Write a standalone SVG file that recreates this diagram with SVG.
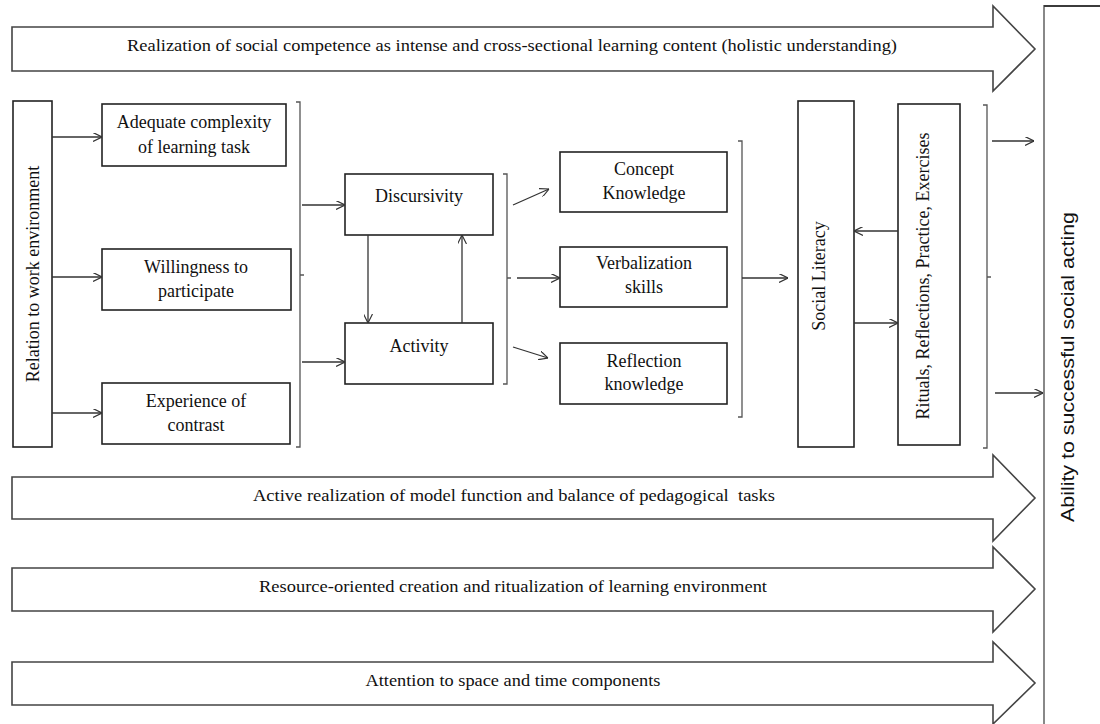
<svg xmlns="http://www.w3.org/2000/svg" width="1100" height="724" viewBox="0 0 1100 724">
<defs>
<style>
.box{fill:#fff;stroke:#222;stroke-width:1.6}
.band{fill:#fff;stroke:#444;stroke-width:1.6}
.t{font-family:"Liberation Serif","Times New Roman",serif;font-size:18px;fill:#111;text-anchor:middle}
.bt{font-family:"Liberation Serif","Times New Roman",serif;font-size:17.5px;fill:#111;text-anchor:middle;white-space:pre}
.s{font-family:"Liberation Sans",Arial,sans-serif;font-size:18px;fill:#111;text-anchor:middle}
.c{fill:none;stroke:#333;stroke-width:1.3}
.br{fill:none;stroke:#555;stroke-width:1.3}
</style>
<marker id="ah" viewBox="0 0 10 10" refX="10" refY="5" markerWidth="9" markerHeight="9" markerUnits="userSpaceOnUse" orient="auto">
<path d="M0,0 L10,5 L0,10" fill="none" stroke="#333" stroke-width="1.3"/>
</marker>
</defs>
<rect width="1100" height="724" fill="#fff"/>

<g id="band-top">
<path class="band" d="M12,27 H993 V6 L1035,49 L993,91 V71 H12 Z"/>
<text class="bt" x="512" y="51" textLength="770" lengthAdjust="spacingAndGlyphs">Realization of social competence as intense and cross-sectional learning content (holistic understanding)</text>
</g>
<g id="band-active">
<path class="band" d="M12,477 H993 V455 L1035,498 L993,541 V519 H12 Z"/>
<text class="bt" x="514" y="501" textLength="522" lengthAdjust="spacingAndGlyphs">Active realization of model function and balance of pedagogical  tasks</text>
</g>
<g id="band-resource">
<path class="band" d="M12,568 H993 V547 L1035,589 L993,632 V611 H12 Z"/>
<text class="bt" x="513" y="592" textLength="508" lengthAdjust="spacingAndGlyphs">Resource-oriented creation and ritualization of learning environment</text>
</g>
<g id="band-attention">
<path class="band" d="M12,662 H993 V642 L1035,683 L993,724 V705 H12 Z"/>
<text class="bt" x="513" y="686" textLength="295" lengthAdjust="spacingAndGlyphs">Attention to space and time components</text>
</g>

<g id="ability">
<rect x="1044" y="6" width="80" height="740" fill="#fff" stroke="#888" stroke-width="2"/>
<line x1="1044" y1="6" x2="1100" y2="6" stroke="#222" stroke-width="1.6"/>
<text class="s" transform="translate(1074,367) rotate(-90)" textLength="310" lengthAdjust="spacingAndGlyphs">Ability to successful social acting</text>
</g>

<g id="relation">
<rect class="box" x="13" y="101" width="39" height="346"/>
<text class="t" transform="translate(39,274) rotate(-90)">Relation to work environment</text>
</g>
<g id="adequate">
<rect class="box" x="102" y="104" width="184" height="62"/>
<text class="t" x="194" y="128">Adequate complexity</text>
<text class="t" x="194" y="153">of learning task</text>
</g>
<g id="willingness">
<rect class="box" x="102" y="249" width="189" height="61"/>
<text class="t" x="196" y="273">Willingness to</text>
<text class="t" x="196" y="297">participate</text>
</g>
<g id="experience">
<rect class="box" x="102" y="383" width="188" height="61"/>
<text class="t" x="196" y="407">Experience of</text>
<text class="t" x="196" y="431">contrast</text>
</g>
<g id="discursivity">
<rect class="box" x="345" y="174" width="148" height="61"/>
<text class="t" x="419" y="202">Discursivity</text>
</g>
<g id="activity">
<rect class="box" x="345" y="323" width="148" height="61"/>
<text class="t" x="419" y="352">Activity</text>
</g>
<g id="concept">
<rect class="box" x="560" y="152" width="167" height="60"/>
<text class="t" x="644" y="175">Concept</text>
<text class="t" x="644" y="199">Knowledge</text>
</g>
<g id="verbalization">
<rect class="box" x="560" y="247" width="167" height="60"/>
<text class="t" x="644" y="269">Verbalization</text>
<text class="t" x="644" y="293">skills</text>
</g>
<g id="reflection">
<rect class="box" x="560" y="343" width="167" height="61"/>
<text class="t" x="644" y="367">Reflection</text>
<text class="t" x="644" y="390">knowledge</text>
</g>
<g id="social-literacy">
<rect class="box" x="798" y="101" width="56" height="346"/>
<text class="t" transform="translate(825,276) rotate(-90)">Social Literacy</text>
</g>
<g id="rituals">
<rect class="box" x="898" y="104" width="62" height="341"/>
<text class="t" transform="translate(929,276) rotate(-90)">Rituals, Reflections, Practice, Exercises</text>
</g>

<g id="connectors">
<path class="br" d="M296,102 H300 V447 H296 M300,275 H304"/>
<path class="br" d="M503,174 H507 V384 H503 M507,278 H511"/>
<path class="br" d="M738,141 H742 V417 H738"/>
<path class="br" d="M983,105 H987 V448 H983 M987,277 H991"/>
<line class="c" x1="52" y1="137" x2="102" y2="137" marker-end="url(#ah)"/>
<line class="c" x1="52" y1="277" x2="102" y2="277" marker-end="url(#ah)"/>
<line class="c" x1="52" y1="413" x2="102" y2="413" marker-end="url(#ah)"/>
<line class="c" x1="302" y1="205" x2="345" y2="205" marker-end="url(#ah)"/>
<line class="c" x1="302" y1="362" x2="345" y2="362" marker-end="url(#ah)"/>
<line class="c" x1="368" y1="235" x2="368" y2="323" marker-end="url(#ah)"/>
<line class="c" x1="462" y1="323" x2="462" y2="235" marker-end="url(#ah)"/>
<line class="c" x1="513" y1="205" x2="549" y2="189" marker-end="url(#ah)"/>
<line class="c" x1="517" y1="278" x2="560" y2="278" marker-end="url(#ah)"/>
<line class="c" x1="513" y1="347" x2="548" y2="358" marker-end="url(#ah)"/>
<line class="c" x1="742" y1="278" x2="788" y2="278" marker-end="url(#ah)"/>
<line class="c" x1="898" y1="231" x2="854" y2="231" marker-end="url(#ah)"/>
<line class="c" x1="854" y1="323" x2="898" y2="323" marker-end="url(#ah)"/>
<line class="c" x1="992" y1="141" x2="1034" y2="141" marker-end="url(#ah)"/>
<line class="c" x1="995" y1="393" x2="1043" y2="393" marker-end="url(#ah)"/>
</g>
</svg>
